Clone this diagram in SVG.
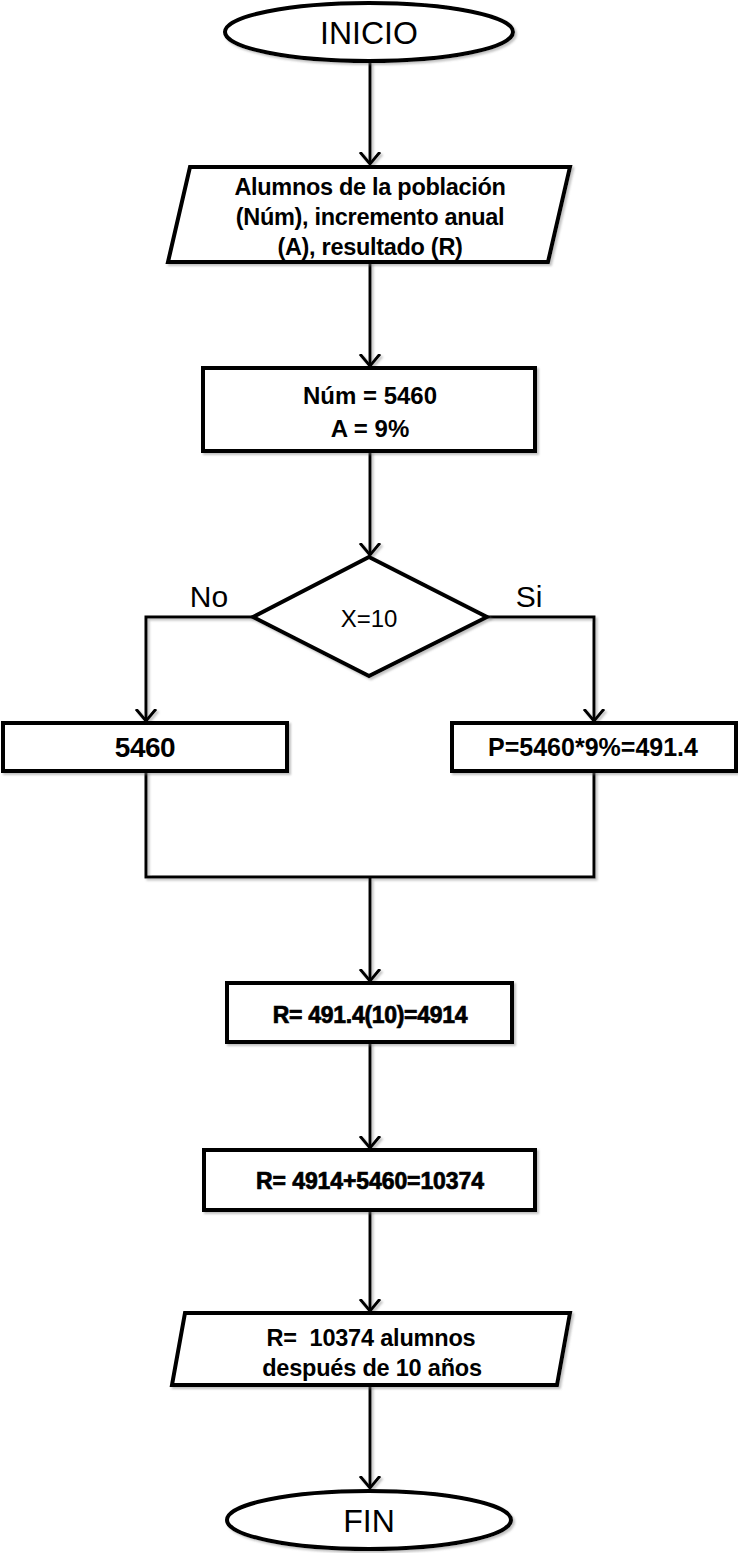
<svg xmlns="http://www.w3.org/2000/svg" width="738" height="1553" viewBox="0 0 738 1553">
<defs>
<marker id="arr" markerUnits="userSpaceOnUse" markerWidth="24" markerHeight="24" refX="12" refY="12" orient="auto" viewBox="0 0 24 24">
<path d="M0,2 L12,12 L0,22" fill="none" stroke="#000" stroke-width="3"/>
</marker>
<filter id="shd" x="-10%" y="-10%" width="120%" height="130%">
<feDropShadow dx="2" dy="2" stdDeviation="1" flood-color="#777" flood-opacity="0.45"/>
</filter>
<style>
.sh{fill:#fff;stroke:#000;stroke-width:4;filter:url(#shd)}
.ln{fill:none;stroke:#000;stroke-width:3}
.b{font-family:"Liberation Sans",Arial,sans-serif;font-weight:bold;text-anchor:middle;fill:#000}
.r{font-family:"Liberation Sans",Arial,sans-serif;text-anchor:middle;fill:#000}
</style>
</defs>
<g id="connectors" filter="url(#shd)">
<line class="ln" x1="370" y1="62" x2="370" y2="164" marker-end="url(#arr)"/>
<line class="ln" x1="370" y1="262" x2="370" y2="366" marker-end="url(#arr)"/>
<line class="ln" x1="370" y1="451" x2="370" y2="555" marker-end="url(#arr)"/>
<polyline class="ln" points="253,617 146,617 146,721" marker-end="url(#arr)"/>
<polyline class="ln" points="487,617 594,617 594,721" marker-end="url(#arr)"/>
<polyline class="ln" points="146,771 146,877 594,877 594,771"/>
<line class="ln" x1="370" y1="877" x2="370" y2="981" marker-end="url(#arr)"/>
<line class="ln" x1="370" y1="1042" x2="370" y2="1148" marker-end="url(#arr)"/>
<line class="ln" x1="370" y1="1210" x2="370" y2="1311" marker-end="url(#arr)"/>
<line class="ln" x1="370" y1="1385" x2="370" y2="1488" marker-end="url(#arr)"/>
</g>
<g id="inicio">
<ellipse class="sh" cx="369" cy="32" rx="144" ry="29"/>
<text class="r" x="369" y="44" style="font-size:32px">INICIO</text>
</g>
<g id="datos">
<polygon class="sh" points="190,167 570,167 548,262 168,262"/>
<text class="b" x="370" y="195" style="font-size:23.5px;letter-spacing:-0.3px">Alumnos de la población</text>
<text class="b" x="370" y="225" style="font-size:23.5px;letter-spacing:-0.3px">(Núm), incremento anual</text>
<text class="b" x="370" y="255" style="font-size:23.5px;letter-spacing:-0.3px">(A), resultado (R)</text>
</g>
<g id="valores">
<rect class="sh" x="203" y="368" width="332" height="83"/>
<text class="b" x="370" y="404" style="font-size:24px">Núm = 5460</text>
<text class="b" x="370" y="437" style="font-size:24px">A = 9%</text>
</g>
<g id="decision">
<polygon class="sh" points="369,557 487,617 369,676 253,617"/>
<text class="r" x="369" y="627" style="font-size:24px">X=10</text>
<text class="r" x="209" y="607" style="font-size:30px">No</text>
<text class="r" x="529" y="607" style="font-size:30px">Si</text>
</g>
<g id="no5460">
<rect class="sh" x="3" y="723" width="284" height="48"/>
<text class="b" x="145" y="757" style="font-size:28px;letter-spacing:-0.5px">5460</text>
</g>
<g id="si">
<rect class="sh" x="452" y="723" width="284" height="48"/>
<text class="b" x="593" y="756" style="font-size:25px">P=5460*9%=491.4</text>
</g>
<g id="r1">
<rect class="sh" x="227" y="983" width="285" height="59"/>
<text class="b" x="370" y="1023" stroke="#000" stroke-width="0.7" style="font-size:23px;letter-spacing:-0.3px">R= 491.4(10)=4914</text>
</g>
<g id="r2">
<rect class="sh" x="204" y="1150" width="331" height="60"/>
<text class="b" x="370" y="1189" stroke="#000" stroke-width="0.7" style="font-size:23px;letter-spacing:-0.1px">R= 4914+5460=10374</text>
</g>
<g id="salida">
<polygon class="sh" points="185,1313 570,1313 557,1385 172,1385"/>
<text class="b" x="371" y="1346" style="font-size:23.5px;letter-spacing:-0.2px;white-space:pre">R=  10374 alumnos</text>
<text class="b" x="372" y="1376" style="font-size:23.5px;letter-spacing:-0.2px">después de 10 años</text>
</g>
<g id="fin">
<ellipse class="sh" cx="369" cy="1520" rx="142" ry="29"/>
<text class="r" x="369" y="1532" style="font-size:32px">FIN</text>
</g>
</svg>
